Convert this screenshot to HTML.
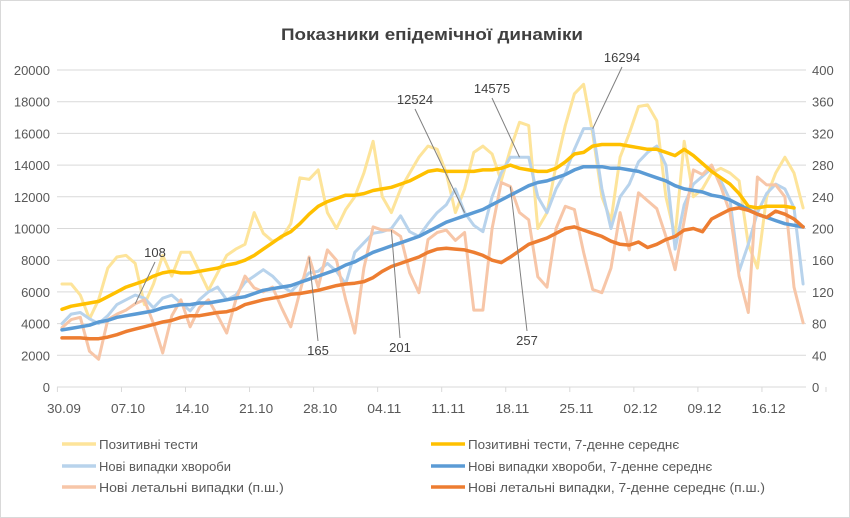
<!DOCTYPE html>
<html><head><meta charset="utf-8"><style>
html,body{margin:0;padding:0;background:#fff;}
svg{display:block;font-family:"Liberation Sans","DejaVu Sans",sans-serif;}
</style></head><body>
<svg id="chart" width="850" height="518" viewBox="0 0 850 518">
<rect x="0.5" y="0.5" width="849" height="517" fill="#fff" stroke="#d9d9d9"/>
<text x="432" y="40" text-anchor="middle" font-size="17" font-weight="bold" fill="#404040" textLength="302" lengthAdjust="spacingAndGlyphs">Показники епідемічної динаміки</text>
<g id="grid"></g><g id="axes"></g><g id="series"></g><g id="annot"></g><g id="legend"></g>
</svg>
<script>
const dateLabels=["30.09","07.10","14.10","21.10","28.10","04.11","11.11","18.11","25.11","02.12","09.12","16.12"];
const leftTicks=[0,2000,4000,6000,8000,10000,12000,14000,16000,18000,20000];
const rightTicks=[0,40,80,120,160,200,240,280,320,360,400];
const positiveTests=[6500,6500,5800,4300,5500,7500,8200,8300,7800,5200,6500,8300,7000,8500,8500,7300,6100,7200,8300,8700,9000,11000,9700,9200,9400,10300,13200,13100,13700,11000,10000,11200,12000,13500,15500,12000,11000,12500,13500,14500,15200,15000,13500,11000,12500,14800,15200,14700,13000,15000,16700,16500,10000,11000,14000,16500,18500,19100,16000,12000,10500,14500,16000,17700,17800,16800,12000,9500,15500,12000,12500,13500,13800,13500,13000,9000,7500,12000,13500,14500,13500,11300];
const positiveAvg=[4900,5100,5200,5300,5400,5700,6000,6300,6500,6700,7000,7200,7300,7200,7200,7300,7400,7500,7700,7800,8000,8300,8700,9100,9500,9800,10300,10900,11400,11700,11900,12100,12100,12200,12400,12500,12600,12800,13000,13300,13600,13700,13600,13600,13600,13600,13700,13700,13800,14000,13800,13700,13600,13600,13800,14200,14700,14800,15200,15300,15300,15300,15200,15100,15000,15000,14800,14600,15000,14600,14100,13600,13200,12800,12200,11400,11300,11400,11400,11400,11300,null];
const cases=[4000,4600,4700,4300,4000,4500,5200,5500,5800,5600,5000,5600,5800,5300,4800,5500,6000,6300,5500,5800,6600,7000,7400,7000,6400,6000,6600,7200,7300,7800,7300,6500,8500,9100,9700,9800,10000,10800,9800,9500,10300,11000,11500,12500,11000,10200,9800,12000,13500,14500,14500,14500,12000,11000,12500,13500,15000,16300,16300,12500,10000,12000,12800,14200,14800,15200,14000,8700,11500,12800,13300,13800,13000,11800,7300,9000,11000,12200,12800,12500,11300,6500];
const casesAvg=[3600,3700,3800,3900,4100,4200,4400,4500,4600,4700,4800,5000,5100,5200,5200,5300,5300,5400,5500,5600,5700,5900,6100,6200,6300,6400,6600,6800,7000,7200,7400,7700,7900,8200,8500,8700,8900,9100,9300,9500,9800,10100,10400,10600,10800,11000,11200,11500,11800,12100,12400,12700,12900,13000,13200,13400,13700,13900,13900,13900,13800,13800,13700,13600,13400,13200,13000,12700,12500,12400,12300,12100,12000,11800,11500,11200,10900,10700,10500,10300,10200,10100];
const deaths=[75,85,88,45,35,85,92,97,105,110,80,43,90,110,76,100,110,90,68,110,140,125,120,126,100,76,120,164,126,173,160,110,68,150,202,198,198,190,144,119,186,195,198,185,195,97,97,200,258,253,220,211,139,126,200,228,224,170,123,119,150,220,173,245,235,225,190,148,210,274,268,280,253,220,140,94,265,255,255,240,126,81];
const deathsAvg=[62,62,62,61,61,63,66,70,73,76,79,82,84,88,90,90,92,94,95,98,104,107,110,112,114,117,118,120,122,125,128,130,131,133,138,146,152,156,160,164,170,174,175,174,173,170,166,160,157,164,172,180,184,188,194,200,202,198,194,190,184,180,179,183,176,180,186,190,198,200,196,212,218,224,226,223,218,214,222,218,212,202];
const annotations=[
 {label:"108",series:"deaths",idx:8,tx:155,ty:257},
 {label:"165",series:"deaths",idx:27,tx:318,ty:355},
 {label:"201",series:"deaths",idx:36,tx:400,ty:352},
 {label:"257",series:"deaths",idx:49,tx:527,ty:345},
 {label:"12524",series:"cases",idx:44,tx:415,ty:104},
 {label:"14575",series:"cases",idx:50,tx:492,ty:93},
 {label:"16294",series:"cases",idx:58,tx:622,ty:62}
];
const NS="http://www.w3.org/2000/svg";
const X0=62,DX=9.15,Y0=387,Y1=70,L=57,R=806;
const xS=i=>X0+i*DX;
const yL=v=>Y0-(v/20000)*(Y0-Y1);
const yR=v=>Y0-(v/400)*(Y0-Y1);
function mk(tag,attrs,parent){const e=document.createElementNS(NS,tag);for(const k in attrs)e.setAttribute(k,attrs[k]);parent.appendChild(e);return e;}
const grid=document.getElementById('grid'),axes=document.getElementById('axes'),ser=document.getElementById('series'),ann=document.getElementById('annot'),leg=document.getElementById('legend');
leftTicks.forEach((t,k)=>{
 const y=yL(t);
 const g=mk('line',{x1:L,x2:R,y1:y,y2:y,stroke:'#d9d9d9','stroke-width':1},grid);
 
 
 const lt=mk('text',{x:50,y:y+5,'text-anchor':'end','font-size':13,fill:'#595959'},axes);lt.textContent=t;
 
 
 const rt=mk('text',{x:812,y:y+5,'text-anchor':'start','font-size':13,fill:'#595959'},axes);rt.textContent=rightTicks[k];
 
 
});
for(let k=0;k<=12;k++){
 const x=X0-4.6+k*7*DX;
 const tk=mk('line',{x1:x,x2:x,y1:Y0,y2:Y0+5,stroke:'#d9d9d9'},axes);
 
 
}
dateLabels.forEach((d,k)=>{
 const t=mk('text',{x:xS(k*7)+2,y:413,'text-anchor':'middle','font-size':13,fill:'#595959',textLength:34,lengthAdjust:'spacingAndGlyphs'},axes);t.textContent=d;
 
 
});
function line(arr,ys,color,w,name){
 let d='';arr.forEach((v,i)=>{if(v==null)return;d+=(d?'L':'M')+xS(i).toFixed(1)+','+ys(v).toFixed(1);});
 const p=mk('path',{d:d,fill:'none',stroke:color,'stroke-width':w,'stroke-linejoin':'round','stroke-linecap':'round'},ser);
 
 
}
line(positiveTests,yL,'#fde49a',3,'positive-tests-line');
line(cases,yL,'#b8d3ec',3,'new-cases-line');
line(deaths,yR,'#f7c6a8',3,'new-deaths-line');
line(positiveAvg,yL,'#ffc000',3.5,'positive-tests-avg-line');
line(casesAvg,yL,'#5b9bd5',3.5,'new-cases-avg-line');
line(deathsAvg,yR,'#ed7d31',3.5,'new-deaths-avg-line');
const srcMap={deaths:[deaths,yR],cases:[cases,yL]};
annotations.forEach(a=>{
 const [arr,ys]=srcMap[a.series];
 const px=xS(a.idx),py=ys(arr[a.idx]);
 const ly=a.ty>py?a.ty-14:a.ty+5;
 const ln=mk('line',{x1:a.tx,y1:ly,x2:px,y2:py,stroke:'#7f7f7f','stroke-width':1},ann);
 
 
 const t=mk('text',{x:a.tx,y:a.ty,'text-anchor':'middle','font-size':13,fill:'#404040'},ann);t.textContent=a.label;
 
 
});
const legendItems=[
 ["Позитивні тести",'#fde49a',62,444,'legend-positive-tests'],
 ["Нові випадки хвороби",'#b8d3ec',62,466,'legend-new-cases'],
 ["Нові летальні випадки (п.ш.)",'#f7c6a8',62,487,'legend-new-deaths'],
 ["Позитивні тести, 7-денне середнє",'#ffc000',431,444,'legend-positive-tests-avg'],
 ["Нові випадки хвороби, 7-денне середнє",'#5b9bd5',431,466,'legend-new-cases-avg'],
 ["Нові летальні випадки, 7-денне середнє (п.ш.)",'#ed7d31',431,487,'legend-new-deaths-avg']
];
legendItems.forEach(it=>{
 const g=mk('g',{},leg);
 
 
 mk('line',{x1:it[2],x2:it[2]+34,y1:it[3],y2:it[3],stroke:it[1],'stroke-width':3.5},g);
 const t=mk('text',{x:it[2]+37,y:it[3]+5,'font-size':13,fill:'#595959',textLength:it[0].length*6.6,lengthAdjust:'spacingAndGlyphs'},g);t.textContent=it[0];
});
</script>
</body></html>
